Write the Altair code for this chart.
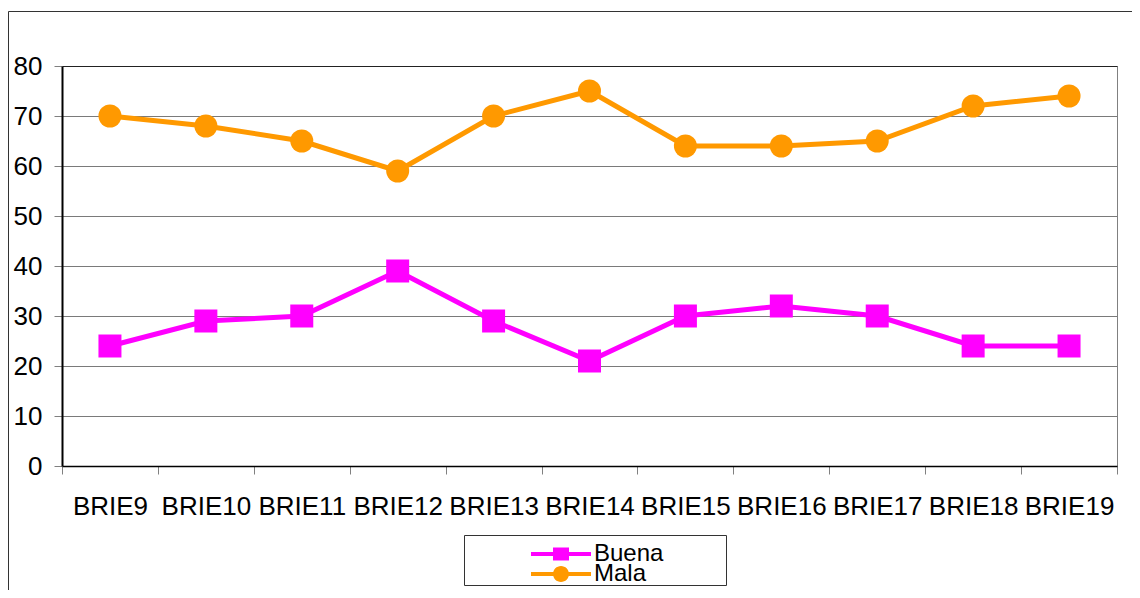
import altair as alt
import pandas as pd

categories = ["BRIE9", "BRIE10", "BRIE11", "BRIE12", "BRIE13", "BRIE14",
              "BRIE15", "BRIE16", "BRIE17", "BRIE18", "BRIE19"]
buena = [24, 29, 30, 39, 29, 21, 30, 32, 30, 24, 24]
mala = [70, 68, 65, 59, 70, 75, 64, 64, 65, 72, 74]
series_names = ["Buena", "Mala"]
series_colors = ["#FF00FF", "#FF9900"]
y_ticks = [0, 10, 20, 30, 40, 50, 60, 70, 80]

rows = []
for c, b, m in zip(categories, buena, mala):
    rows.append({"cat": c, "serie": "Buena", "valor": b})
    rows.append({"cat": c, "serie": "Mala", "valor": m})
df = pd.DataFrame(rows)

FONT = "Liberation Sans"

x_enc = alt.X(
    "cat:N", sort=categories,
    scale=alt.Scale(paddingInner=0, paddingOuter=0),
    axis=alt.Axis(title=None, labelAngle=0, tickBand="extent", labelFontSize=26,
                  labelFont=FONT, labelColor="black", labelPadding=19, tickSize=8,
                  tickColor="#808080", domainColor="black", domainWidth=1.5,
                  grid=False),
)
y_enc = alt.Y(
    "valor:Q",
    scale=alt.Scale(domain=[0, 80], nice=False),
    axis=alt.Axis(title=None, values=y_ticks, labelFontSize=26, labelFont=FONT,
                  labelColor="black", labelPadding=12, tickSize=8,
                  tickColor="#808080", domainColor="black", domainWidth=2,
                  grid=True,
                  gridColor=alt.condition("datum.value == 80", alt.value("#222222"),
                                          alt.value("#7a7a7a")),
                  gridWidth=1),
)
color_scale = alt.Scale(domain=series_names, range=series_colors)

lines = alt.Chart(df).mark_line(strokeWidth=5).encode(
    x=x_enc, y=y_enc,
    color=alt.Color("serie:N", scale=color_scale, legend=None),
)
points = alt.Chart(df).mark_point(filled=True, size=529, opacity=1).encode(
    x=x_enc, y=y_enc,
    color=alt.Color("serie:N", scale=color_scale, legend=None),
    shape=alt.Shape("serie:N", scale=alt.Scale(domain=series_names, range=["square", "circle"]),
                    legend=None),
)

legend_paths = [
    "M-3.75,-0.25H3.75V0.25H-3.75Z M-1,-0.8H1V0.8H-1Z",
    "M-3.75,-0.25H3.75V0.25H-3.75Z M-1,0A1,1 0 1,1 1,0A1,1 0 1,1 -1,0Z",
]
legend_rows_y = [476, 496]


def legend_layer(name, color, path, ly):
    lg = alt.Legend(title=None, orient="none", legendX=487, legendY=ly,
                    labelFontSize=24, labelFont=FONT, labelColor="black",
                    symbolSize=256, symbolStrokeWidth=0, labelOffset=21,
                    padding=0, symbolOpacity=1)
    return alt.Chart(df[df["serie"] == name]).mark_point(
        filled=True, opacity=1, clip=True
    ).encode(
        x=alt.value(-500), y=alt.value(-500),
        color=alt.Color("serie:N", scale=alt.Scale(domain=[name], range=[color]), legend=lg),
        shape=alt.Shape("serie:N", scale=alt.Scale(domain=[name], range=[path]), legend=lg),
    )


legend_layers = [legend_layer(n, c, p, ly) for n, c, p, ly in
                 zip(series_names, series_colors, legend_paths, legend_rows_y)]

one = alt.Data(values=[{"k": 0}])
left_border = alt.Chart(one).mark_rule(color="#333333", strokeWidth=1).encode(
    x=alt.value(-53.5), y=alt.value(-54.5), y2=alt.value(700))
top_border = alt.Chart(one).mark_rule(color="#333333", strokeWidth=1).encode(
    x=alt.value(-53.5), x2=alt.value(1200), y=alt.value(-54.5))
legend_frame = alt.Chart(one).mark_rect(fill="white", stroke="#333333", strokeWidth=1).encode(
    x=alt.value(402.5), x2=alt.value(664.5), y=alt.value(469.5), y2=alt.value(519.5))

chart = alt.layer(
    left_border, top_border, legend_frame, lines, points, *legend_layers
).resolve_scale(
    color="independent", shape="independent"
).properties(
    width=1055, height=400,
    autosize=alt.AutoSizeParams(type="none"),
    padding={"left": 54, "top": 58, "right": 15, "bottom": 124},
    background="white",
).configure_view(
    stroke="#808080", strokeWidth=1
)

chart.save("out.html", embed_options={"renderer": "svg", "actions": False})
